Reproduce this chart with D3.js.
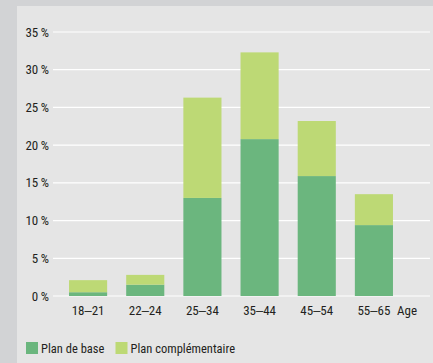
<!DOCTYPE html>
<html><head><meta charset="utf-8">
<script src="https://cdn.jsdelivr.net/npm/d3@7"></script>
<style>
html,body{margin:0;padding:0;background:#d2d3d5;}
svg{display:block;}
text{font-family:"Liberation Sans Narrow","Arial Narrow","Roboto Condensed",sans-serif;fill:#231f20;}
</style></head>
<body>
<svg id="c" width="433" height="363"></svg>
<script>
const categories = ["18\u201221","22\u201224","25\u201234","35\u201244","45\u201254","55\u201265"];
const planDeBase = [0.5, 1.5, 13.0, 20.8, 15.9, 9.4];
const planComplementaire = [1.6, 1.3, 13.3, 11.5, 7.3, 4.1];
const yTicks = [0,5,10,15,20,25,30,35];
const seriesNames = ["Plan de base","Plan complémentaire"];
const colors = ["#6bb67e","#bdd975"];

const svg = d3.select("#c");
svg.append("rect").attr("x",17).attr("y",6).attr("width",416).attr("height",357).attr("fill","#e5e5e5");

const x = d3.scaleBand().domain(categories).range([59.5,402.5]).paddingInner(1/3).paddingOuter(1/6);
const y = d3.scaleLinear().domain([0,35]).range([296,32]);

// grid
svg.append("g").selectAll("line").data(yTicks).join("line")
  .attr("x1",53).attr("x2",430).attr("y1",d=>y(d)).attr("y2",d=>y(d))
  .attr("stroke","#fff").attr("stroke-width",1.2);

// y labels
svg.append("g").selectAll("text").data(yTicks).join("text")
  .attr("x",49).attr("y",d=>y(d)+4.5).attr("text-anchor","end").attr("font-size",13)
  .text(d=>d+"\u2009%");

const data = categories.map((c,i)=>({cat:c, base:planDeBase[i], comp:planComplementaire[i]}));
const stack = d3.stack().keys(["base","comp"])(data);

svg.append("g").selectAll("g").data(stack).join("g").attr("fill",(d,i)=>colors[i])
  .selectAll("rect").data(d=>d).join("rect")
  .attr("x",d=>x(d.data.cat)).attr("width",x.bandwidth())
  .attr("y",d=>y(d[1])).attr("height",d=>y(d[0])-y(d[1]));

// x labels
svg.append("g").selectAll("text").data(categories).join("text")
  .attr("x",d=>x(d)+x.bandwidth()/2).attr("y",314.5).attr("text-anchor","middle").attr("font-size",13)
  .text(d=>d);
svg.append("text").attr("x",397).attr("y",314.5).attr("font-size",13).text("Age");

// legend
const lx = [26,115.5];
const lg = svg.append("g").selectAll("g").data(seriesNames).join("g")
  .attr("transform",(d,i)=>`translate(${lx[i]},342)`);
lg.append("rect").attr("width",12).attr("height",12).attr("fill",(d,i)=>colors[i]);
lg.append("text").attr("x",15).attr("y",10.5).attr("font-size",12.5).text(d=>d);
</script>
</body></html>
